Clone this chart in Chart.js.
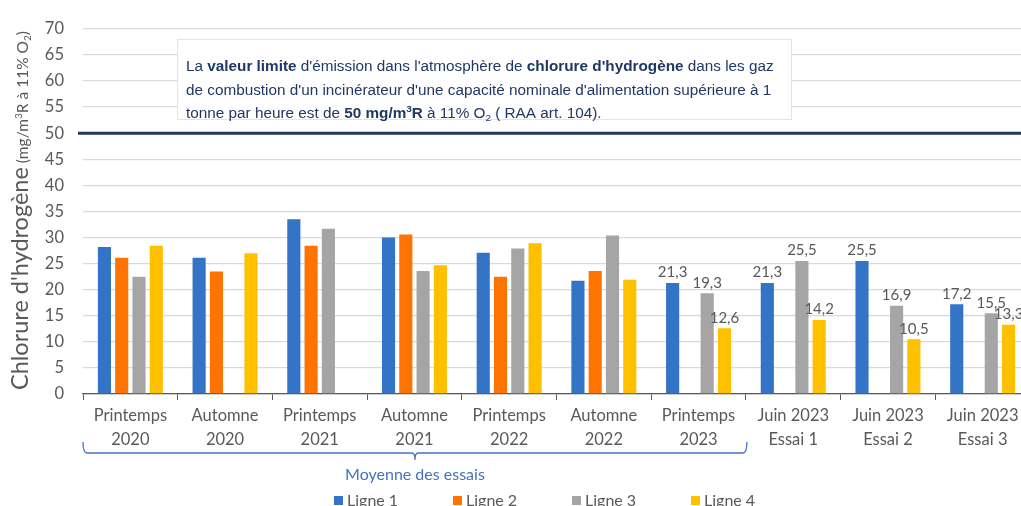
<!DOCTYPE html>
<html>
<head>
<meta charset="utf-8">
<script src="https://cdn.jsdelivr.net/npm/chart.js@4"></script>
<style>
  html, body { margin: 0; padding: 0; background: #fff; overflow: hidden; }
  #wrap { width: 1040px; height: 506px; }
</style>
</head>
<body>
<div id="wrap"><canvas id="hclChart"></canvas></div>
<script>
// Données (mg/m3R à 11% O2)
const categories = [
    ['Printemps', '2020'], ['Automne', '2020'], ['Printemps', '2021'], ['Automne', '2021'],
    ['Printemps', '2022'], ['Automne', '2022'], ['Printemps', '2023'],
    ['Juin 2023', 'Essai 1'], ['Juin 2023', 'Essai 2'], ['Juin 2023', 'Essai 3']
];
const ligne1 = [28.2, 26.1, 33.5, 30.0, 27.1, 21.7, 21.3, 21.3, 25.5, 17.2];
const ligne2 = [26.1, 23.5, 28.4, 30.6, 22.5, 23.6, null, null, null, null];
const ligne3 = [22.5, null, 31.7, 23.6, 27.9, 30.4, 19.3, 25.5, 16.9, 15.5];
const ligne4 = [28.4, 27.0, null, 24.7, 28.9, 21.9, 12.6, 14.2, 10.5, 13.3];
const seriesNames = ['Ligne 1', 'Ligne 2', 'Ligne 3', 'Ligne 4'];
const seriesColors = ['#3474C6', '#FF7300', '#A5A5A5', '#FFC000'];
const yTicks = [0, 5, 10, 15, 20, 25, 30, 35, 40, 45, 50, 55, 60, 65, 70];
const valeurLimite = 50;
const firstLabelledIndex = 6;   // étiquettes de valeur à partir de Printemps 2023
const moyenneRange = [0, 6];    // accolade "Moyenne des essais"

const canvas = document.getElementById('hclChart');
canvas.width = 1040;
canvas.height = 506;
const ctx = canvas.getContext('2d');

const grey = '#595959';
const navy = '#1F3864';
const bracketBlue = '#4472C4';
const calibri = 'Lato, "Open Sans", sans-serif';
const arial = '"Liberation Sans", Arial, sans-serif';

// Texte riche : segments {t, b (gras), sup, sub}
function drawRich(c, segments, x, y, size, family) {
    let cx = x;
    segments.forEach(s => {
        let fs = size, dy = 0;
        if (s.sup) { fs = size * 0.65; dy = -size * 0.38; }
        if (s.sub) { fs = size * 0.65; dy = size * 0.22; }
        c.font = `${s.b ? 'bold ' : ''}${fs}px ${family}`;
        c.fillText(s.t, cx, y + dy);
        cx += c.measureText(s.t).width;
    });
    return cx - x;
}

// Ligne de la valeur limite + encadré
const limitPlugin = {
    id: 'limitPlugin',
    afterDatasetsDraw: (chart) => {
        const c = chart.ctx;
        const y = chart.scales.y.getPixelForValue(valeurLimite);
        c.save();
        c.strokeStyle = navy;
        c.lineWidth = 3;
        c.beginPath();
        c.moveTo(78, y);
        c.lineTo(chart.width, y);
        c.stroke();

        // encadré
        c.fillStyle = '#ffffff';
        c.strokeStyle = '#DCE6F2';
        c.lineWidth = 1;
        c.fillRect(177.5, 39.5, 614, 80);
        c.strokeRect(177.5, 39.5, 614, 80);

        c.fillStyle = navy;
        c.textBaseline = 'alphabetic';
        c.textAlign = 'left';
        const lines = [
            [{t: 'La '}, {t: 'valeur limite', b: true}, {t: " d'émission dans l'atmosphère de "},
             {t: "chlorure d'hydrogène", b: true}, {t: ' dans les gaz'}],
            [{t: "de combustion d'un incinérateur d'une capacité nominale d'alimentation supérieure à 1"}],
            [{t: 'tonne par heure est de '}, {t: '50 mg/m', b: true}, {t: '3', b: true, sup: true},
             {t: 'R', b: true}, {t: ' à 11% O'}, {t: '2', sub: true}, {t: ' ( RAA art. 104).'}]
        ];
        lines.forEach((l, i) => drawRich(c, l, 186, 71 + i * 23.5, 15.3, arial));
        c.restore();
    }
};

// Étiquettes de valeurs (virgule décimale)
const valueLabelPlugin = {
    id: 'valueLabelPlugin',
    afterDatasetsDraw: (chart) => {
        const c = chart.ctx;
        c.save();
        c.font = `15px ${calibri}`;
        c.fillStyle = grey;
        c.textAlign = 'center';
        c.textBaseline = 'bottom';
        chart.data.datasets.forEach((ds, di) => {
            const meta = chart.getDatasetMeta(di);
            meta.data.forEach((bar, i) => {
                const v = ds.data[i];
                if (i < firstLabelledIndex || v === null) return;
                c.fillText(v.toFixed(1).replace('.', ','), bar.x, bar.y - 3);
            });
        });
        c.restore();
    }
};

// Titre de l'axe Y, accolade et légende
const decorPlugin = {
    id: 'decorPlugin',
    afterDraw: (chart) => {
        const c = chart.ctx;
        const xs = chart.scales.x;
        c.save();

        // titre Y (texte tourné)
        c.translate(28, 390);
        c.rotate(-Math.PI / 2);
        c.fillStyle = grey;
        c.textBaseline = 'alphabetic';
        c.textAlign = 'left';
        const w = drawRich(c, [{t: "Chlorure d'hydrogène"}], 0, 0, 23.5, calibri);
        drawRich(c, [{t: ' (mg/m'}, {t: '3', sup: true}, {t: 'R à 11% O'}, {t: '2', sub: true}, {t: ')'}],
            w, 0, 15.5, calibri);
        c.setTransform(1, 0, 0, 1, 0, 0);

        // accolade
        const half = (xs.getPixelForValue(1) - xs.getPixelForValue(0)) / 2;
        const x0 = xs.getPixelForValue(moyenneRange[0]) - half;
        const x1 = xs.getPixelForValue(moyenneRange[1]) + half + 1;
        const xm = (x0 + x1) / 2;
        const yb = 453;
        c.strokeStyle = bracketBlue;
        c.lineWidth = 1.3;
        c.beginPath();
        c.moveTo(x0, 442);
        c.quadraticCurveTo(x0, yb, x0 + 4, yb);
        c.lineTo(xm - 3, yb);
        c.quadraticCurveTo(xm, yb, xm, yb + 7);
        c.quadraticCurveTo(xm, yb, xm + 3, yb);
        c.lineTo(x1 - 4, yb);
        c.quadraticCurveTo(x1, yb, x1, 442);
        c.stroke();
        c.fillStyle = bracketBlue;
        c.font = `16px ${calibri}`;
        c.textAlign = 'center';
        c.textBaseline = 'middle';
        c.fillText('Moyenne des essais', xm, 475);

        // légende
        c.font = `16px ${calibri}`;
        c.textAlign = 'left';
        c.textBaseline = 'middle';
        chart.data.datasets.forEach((ds, i) => {
            const lx = 334 + i * 119;
            c.fillStyle = ds.backgroundColor;
            c.fillRect(lx, 496, 9, 9);
            c.fillStyle = grey;
            c.fillText(ds.label, lx + 13, 501);
        });
        c.restore();
    }
};

const hclChart = new Chart(ctx, {
    type: 'bar',
    data: {
        labels: categories,
        datasets: seriesNames.map((name, i) => ({
            label: name,
            data: [ligne1, ligne2, ligne3, ligne4][i],
            backgroundColor: seriesColors[i],
            categoryPercentage: 0.73,
            barPercentage: 0.76
        }))
    },
    options: {
        responsive: false,
        maintainAspectRatio: false,
        animation: false,
        layout: { padding: { left: 0, right: 10, top: 19, bottom: 0 } },
        plugins: {
            legend: { display: false },
            tooltip: { enabled: false }
        },
        scales: {
            x: {
                afterFit: (scale) => { scale.height = 112; },
                grid: {
                    offset: true,
                    drawOnChartArea: false,
                    drawTicks: true,
                    tickLength: 6,
                    color: grey
                },
                border: { color: grey, width: 1.2 },
                ticks: {
                    color: grey,
                    padding: 4,
                    maxRotation: 0,
                    font: { family: calibri, size: 16.5, lineHeight: 1.45 }
                }
            },
            y: {
                min: 0,
                max: 70,
                afterFit: (scale) => { scale.width = 83; },
                afterBuildTicks: (scale) => { scale.ticks = yTicks.map(v => ({ value: v })); },
                grid: { color: '#D9D9D9', lineWidth: 1.3, drawTicks: false },
                border: { display: false },
                ticks: {
                    color: grey,
                    padding: 19,
                    font: { family: calibri, size: 16.5 }
                }
            }
        }
    },
    plugins: [limitPlugin, valueLabelPlugin, decorPlugin]
});
</script>
</body>
</html>
